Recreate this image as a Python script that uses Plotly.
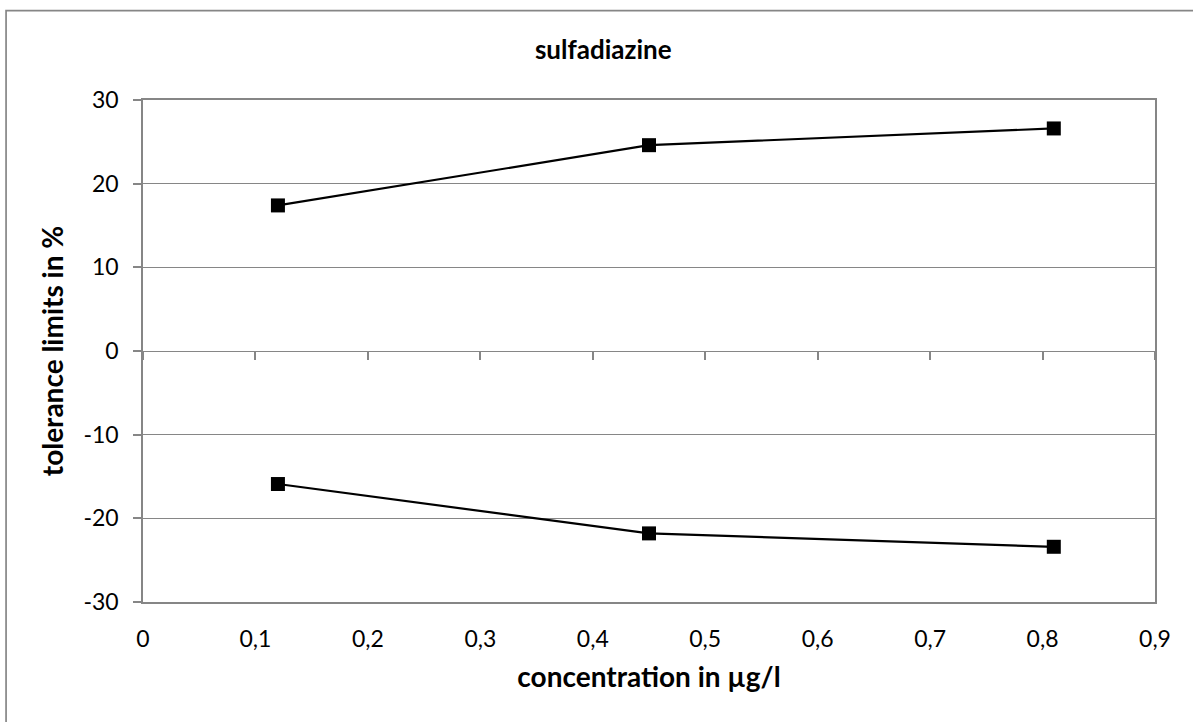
import plotly.graph_objects as go

concentration = [0.12, 0.45, 0.81]
upper_limit = [17.4, 24.6, 26.6]
lower_limit = [-15.9, -21.8, -23.4]
x_ticks = [0, 0.1, 0.2, 0.3, 0.4, 0.5, 0.6, 0.7, 0.8, 0.9]
y_ticks = [-30, -20, -10, 0, 10, 20, 30]
y_tick_text = ["-30", "-20", "-10", "0", "10", "20", "30"]

W, H = 1193, 722
# target plot area on screen: x 142.5..1155, y 99.5..602
L = 142.5
T = 99.5
R = W - 1155
B = H - 602
pw, ph = W - L - R, H - T - B
GRAY = "#868686"
FONT = "Lato"

fig = go.Figure()
fig.add_trace(go.Scatter(x=concentration, y=upper_limit, mode="lines+markers",
                         line=dict(color="black", width=2.2),
                         marker=dict(symbol="square", size=14, color="black"),
                         showlegend=False, xaxis="x", yaxis="y"))
fig.add_trace(go.Scatter(x=concentration, y=lower_limit, mode="lines+markers",
                         line=dict(color="black", width=2.2),
                         marker=dict(symbol="square", size=14, color="black"),
                         showlegend=False, xaxis="x2", yaxis="y"))

def px_to_paper_x(p):
    return (p - L) / pw

def px_to_paper_y(p):
    return (H - B - p) / ph

fig.update_layout(
    width=W, height=H,
    margin=dict(l=L, r=R, t=T, b=B, autoexpand=False),
    paper_bgcolor="white", plot_bgcolor="white",
    separators=",.",
    font=dict(family=FONT, size=22, color="black"),
    title=dict(text="<b>sulfadiazine</b>", x=px_to_paper_x(603), xref="paper", xanchor="center",
               y=1 - 50 / H, yanchor="middle", font=dict(family=FONT, size=26, color="black")),
    xaxis=dict(range=[0, 0.9], tickvals=x_ticks, showgrid=False, zeroline=False,
               showline=True, linecolor=GRAY, linewidth=1.5, mirror=True,
               ticks="", ticklabelstandoff=16,
               tickfont=dict(family=FONT, size=23, color="black"),
               title=dict(text="<b>concentration in µg/l</b>", standoff=16,
                          font=dict(family=FONT, size=28, color="black"))),
    xaxis2=dict(range=[0, 0.9], tickvals=x_ticks, overlaying="x", anchor="free",
                position=0.5, showgrid=False, zeroline=False, showline=False,
                showticklabels=False, ticks="outside", ticklen=8, tickwidth=1.5,
                tickcolor=GRAY),
    yaxis=dict(range=[-30, 30], tickvals=y_ticks, ticktext=y_tick_text, showgrid=True,
               gridcolor=GRAY, gridwidth=1.3, zeroline=False, showline=True, linecolor=GRAY,
               linewidth=1.5, mirror=True, ticks="outside", ticklen=8, tickwidth=1.5,
               tickcolor=GRAY, ticklabelstandoff=10,
               tickfont=dict(family=FONT, size=23, color="black"),
               title=dict(text="<b>tolerance limits in %</b>", standoff=12,
                          font=dict(family=FONT, size=28, color="black"))),
    shapes=[dict(type="rect", xref="paper", yref="paper",
                 x0=px_to_paper_x(5.5), x1=px_to_paper_x(1220),
                 y0=px_to_paper_y(750), y1=px_to_paper_y(10),
                 line=dict(color=GRAY, width=1.7), fillcolor="rgba(0,0,0,0)", layer="below")],
)

fig.write_html("out.html", config={"displayModeBar": False},
               post_script="document.body.style.margin='0';document.body.style.padding='0';")
